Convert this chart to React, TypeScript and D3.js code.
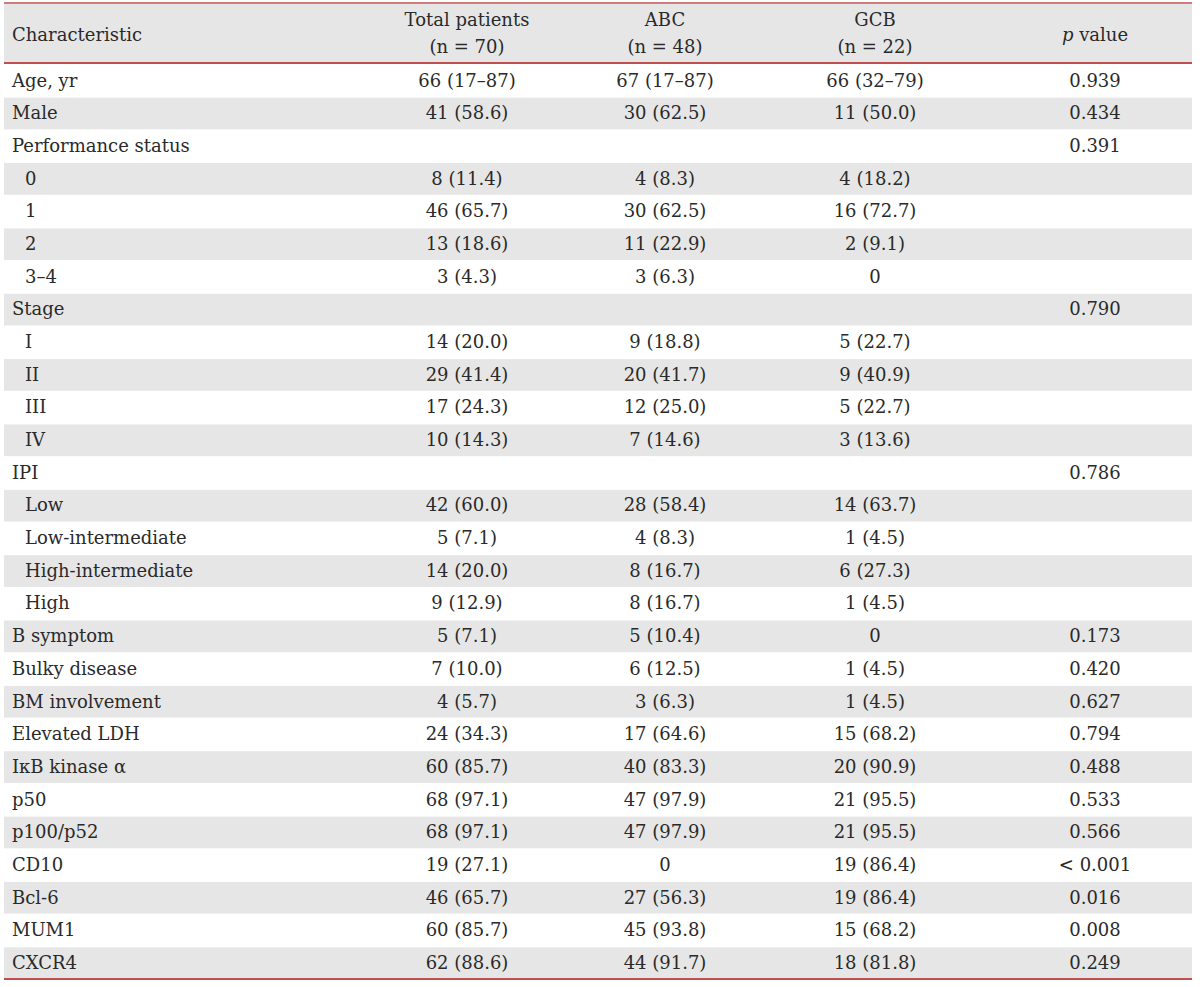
import React from 'react';
import * as d3 from 'd3';

const headers = ['Characteristic', 'Total patients', 'ABC', 'GCB', 'p value'];
const groupN = ['', '(n = 70)', '(n = 48)', '(n = 22)', ''];

const characteristics = [
  'Age, yr', 'Male', 'Performance status', '0', '1', '2', '3–4',
  'Stage', 'I', 'II', 'III', 'IV',
  'IPI', 'Low', 'Low-intermediate', 'High-intermediate', 'High',
  'B symptom', 'Bulky disease', 'BM involvement', 'Elevated LDH',
  'IκB kinase α', 'p50', 'p100/p52', 'CD10', 'Bcl-6', 'MUM1', 'CXCR4',
];
const indented = [
  false, false, false, true, true, true, true,
  false, true, true, true, true,
  false, true, true, true, true,
  false, false, false, false, false, false, false, false, false, false, false,
];
const totalPatients = [
  '66 (17–87)', '41 (58.6)', '', '8 (11.4)', '46 (65.7)', '13 (18.6)', '3 (4.3)',
  '', '14 (20.0)', '29 (41.4)', '17 (24.3)', '10 (14.3)',
  '', '42 (60.0)', '5 (7.1)', '14 (20.0)', '9 (12.9)',
  '5 (7.1)', '7 (10.0)', '4 (5.7)', '24 (34.3)', '60 (85.7)', '68 (97.1)', '68 (97.1)',
  '19 (27.1)', '46 (65.7)', '60 (85.7)', '62 (88.6)',
];
const abc = [
  '67 (17–87)', '30 (62.5)', '', '4 (8.3)', '30 (62.5)', '11 (22.9)', '3 (6.3)',
  '', '9 (18.8)', '20 (41.7)', '12 (25.0)', '7 (14.6)',
  '', '28 (58.4)', '4 (8.3)', '8 (16.7)', '8 (16.7)',
  '5 (10.4)', '6 (12.5)', '3 (6.3)', '17 (64.6)', '40 (83.3)', '47 (97.9)', '47 (97.9)',
  '0', '27 (56.3)', '45 (93.8)', '44 (91.7)',
];
const gcb = [
  '66 (32–79)', '11 (50.0)', '', '4 (18.2)', '16 (72.7)', '2 (9.1)', '0',
  '', '5 (22.7)', '9 (40.9)', '5 (22.7)', '3 (13.6)',
  '', '14 (63.7)', '1 (4.5)', '6 (27.3)', '1 (4.5)',
  '0', '1 (4.5)', '1 (4.5)', '15 (68.2)', '20 (90.9)', '21 (95.5)', '21 (95.5)',
  '19 (86.4)', '19 (86.4)', '15 (68.2)', '18 (81.8)',
];
const pValues = [
  '0.939', '0.434', '0.391', '', '', '', '',
  '0.790', '', '', '', '',
  '0.786', '', '', '', '',
  '0.173', '0.420', '0.627', '0.794', '0.488', '0.533', '0.566',
  '< 0.001', '0.016', '0.008', '0.249',
];

const W = 1200;
const H = 987;
const left = 4;
const right = 1192;
const headTop = 4;
const headBottom = 63;
const tableBottom = 979;
const red = '#c0504f';
const gray = '#e6e6e6';
const font = '"DejaVu Serif", serif';
const fs = 18;

export default function App() {
  const y = d3.scaleBand<number>()
    .domain(d3.range(characteristics.length))
    .range([headBottom + 1, tableBottom]);
  const colX = d3.scaleOrdinal<string, number>()
    .domain(headers.slice(1))
    .range([467, 665, 875, 1095]);
  const columns = [totalPatients, abc, gcb, pValues];

  return (
    <svg width={W} height={H} style={{ position: 'absolute', left: 0, top: 0 }}
      fontFamily={font} fontSize={fs} fill="#2a2a2a">
      <rect x={0} y={0} width={W} height={H} fill="#fff" />
      <rect x={left} y={headTop} width={right - left} height={headBottom - headTop} fill={gray} />
      {characteristics.map((c, i) => i % 2 === 1 ? (
        <rect key={'bg' + i} x={left} y={y(i)! + 1} width={right - left} height={y.bandwidth() - 1} fill={gray} />
      ) : null)}
      <line x1={left} x2={right} y1={3} y2={3} stroke={red} strokeWidth={1.5} />
      <line x1={left} x2={right} y1={headBottom} y2={headBottom} stroke={red} strokeWidth={2} />
      <line x1={left} x2={right} y1={tableBottom} y2={tableBottom} stroke={red} strokeWidth={2} />

      <text x={12} y={35} dy="0.35em">{headers[0]}</text>
      {headers.slice(1, 4).map((h, j) => (
        <g key={h}>
          <text x={colX(h)} y={20} dy="0.35em" textAnchor="middle">{h}</text>
          <text x={colX(h)} y={47} dy="0.35em" textAnchor="middle">{groupN[j + 1]}</text>
        </g>
      ))}
      <text x={colX('p value')} y={35} dy="0.35em" textAnchor="middle">
        <tspan fontStyle="italic">p</tspan> value
      </text>

      {characteristics.map((c, i) => {
        const cy = y(i)! + y.bandwidth() / 2;
        return (
          <g key={'r' + i}>
            <text x={indented[i] ? 25 : 12} y={cy} dy="0.35em">{c}</text>
            {columns.map((col, j) => col[i] ? (
              <text key={j} x={colX(headers[j + 1])} y={cy} dy="0.35em" textAnchor="middle">{col[i]}</text>
            ) : null)}
          </g>
        );
      })}
    </svg>
  );
}
